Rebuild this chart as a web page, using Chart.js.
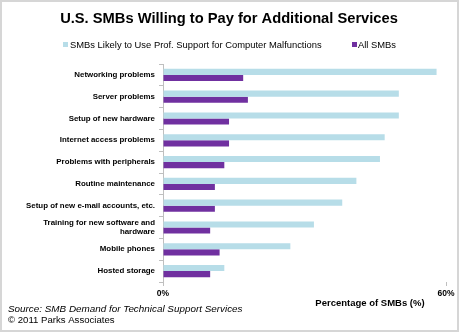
<!DOCTYPE html>
<html>
<head>
<meta charset="utf-8">
<script src="https://cdn.jsdelivr.net/npm/chart.js@4.4.1/dist/chart.umd.min.js"></script>
<style>
  html, body { margin: 0; padding: 0; background: #fff; }
  #wrap { position: relative; width: 460px; height: 334px; }
</style>
</head>
<body>
<div id="wrap"><canvas id="c" width="460" height="334"></canvas></div>
<script>
const categories = [
  'Networking problems',
  'Server problems',
  'Setup of new hardware',
  'Internet access problems',
  'Problems with peripherals',
  'Routine maintenance',
  'Setup of new e-mail accounts, etc.',
  ['Training for new software and', 'hardware'],
  'Mobile phones',
  'Hosted storage'
];
const likelyProfSupport = [58, 50, 50, 47, 46, 41, 38, 32, 27, 13];
const allSMBs = [17, 18, 14, 14, 13, 11, 11, 10, 12, 10];
const xTickValues = [0, 60];
const seriesNames = ['SMBs Likely to Use Prof. Support for Computer Malfunctions', 'All SMBs'];
const titleText = 'U.S. SMBs Willing to Pay for Additional Services';
const axisTitle = 'Percentage of SMBs (%)';
const sourceLines = ['Source: SMB Demand for Technical Support Services', '\u00A9 2011 Parks Associates'];

const FONT = '"Liberation Sans", Arial, sans-serif';
const LIGHT = '#b7dde8';
const PURPLE = '#7030a0';

const decor = {
  id: 'decor',
  afterDraw(chart) {
    const ctx = chart.ctx;
    ctx.save();
    // border
    ctx.strokeStyle = '#d6d6d6';
    ctx.lineWidth = 2;
    ctx.strokeRect(1, 1, 457, 330);
    // title
    ctx.fillStyle = '#000';
    ctx.textBaseline = 'middle';
    ctx.textAlign = 'center';
    ctx.font = 'bold 14.7px ' + FONT;
    ctx.fillText(titleText, 229, 19);
    // legend
    ctx.textAlign = 'left';
    ctx.font = '9.4px ' + FONT;
    ctx.fillStyle = LIGHT;
    ctx.fillRect(63, 42, 5, 5);
    ctx.fillStyle = '#000';
    ctx.fillText(seriesNames[0], 70, 45);
    ctx.fillStyle = PURPLE;
    ctx.fillRect(352, 42, 5, 5);
    ctx.fillStyle = '#000';
    ctx.fillText(seriesNames[1], 358, 45);
    // axis title
    ctx.textAlign = 'center';
    ctx.font = 'bold 9.5px ' + FONT;
    ctx.fillText(axisTitle, 370, 303);
    // source
    ctx.textAlign = 'left';
    ctx.font = 'italic 9.9px ' + FONT;
    ctx.fillText(sourceLines[0], 8, 309);
    ctx.font = '9.6px ' + FONT;
    ctx.fillText(sourceLines[1], 8, 320.5);
    ctx.restore();
  }
};

new Chart(document.getElementById('c'), {
  type: 'bar',
  data: {
    labels: categories,
    datasets: [
      { label: seriesNames[0], data: likelyProfSupport, backgroundColor: LIGHT, borderWidth: 0,
        categoryPercentage: 0.56, barPercentage: 1.0 },
      { label: seriesNames[1], data: allSMBs, backgroundColor: PURPLE, borderWidth: 0,
        categoryPercentage: 0.56, barPercentage: 1.0 }
    ]
  },
  options: {
    indexAxis: 'y',
    responsive: false,
    animation: false,
    layout: { padding: { top: 64, right: 14, left: 0, bottom: 0 } },
    plugins: {
      legend: { display: false },
      title: { display: false },
      tooltip: { enabled: false }
    },
    scales: {
      y: {
        afterFit(scale) { scale.width = 163; },
        ticks: {
          color: '#000',
          font: { family: FONT, size: 7.9, weight: 'bold', lineHeight: 1.15 },
          padding: 4
        },
        grid: { display: true, drawOnChartArea: false, tickLength: 4, color: '#bfbfbf' },
        border: { display: true, color: '#bfbfbf' }
      },
      x: {
        min: 0, max: 60,
        afterFit(scale) { scale.height = 52; },
        afterBuildTicks(scale) { scale.ticks = xTickValues.map(v => ({ value: v })); },
        ticks: {
          color: '#000',
          font: { family: FONT, size: 8.5, weight: 'bold' },
          padding: 3,
          callback: v => v + '%'
        },
        grid: { display: true, drawOnChartArea: false, tickLength: 4, color: '#bfbfbf' },
        border: { display: false }
      }
    }
  },
  plugins: [decor]
});
</script>
</body>
</html>
